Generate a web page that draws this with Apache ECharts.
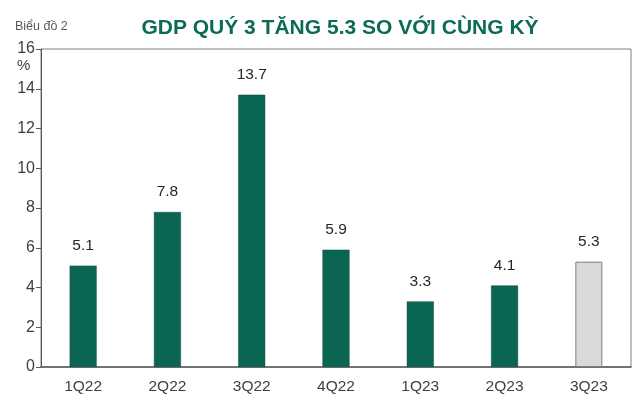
<!DOCTYPE html>
<html>
<head>
<meta charset="UTF-8">
<title>GDP</title>
<script src="https://cdn.jsdelivr.net/npm/echarts@6/dist/echarts.min.js"></script>
</head>
<body style="margin:0;background:#fff">
<div id="gdp-bar" style="width:640px;height:397px;"></div>
<script type="text/javascript">
    var quarters = ['1Q22', '2Q22', '3Q22', '4Q22', '1Q23', '2Q23', '3Q23'];
    var growth = [5.1, 7.8, 13.7, 5.9, 3.3, 4.1, 5.3];
    var highlight = '3Q23';

    var green = '#0a6652';
    var barData = [];
    for (var i = 0; i < quarters.length; i++) {
        if (quarters[i] == highlight) {
            barData.push({ value: growth[i], itemStyle: { color: '#d9d9d9', borderColor: '#7f7f7f', borderWidth: 1 } });
        } else {
            barData.push({ value: growth[i], itemStyle: { color: green, borderColor: '#0f4d40', borderWidth: 0.5 } });
        }
    }

    var chart = echarts.init(document.getElementById('gdp-bar'));
    chart.setOption({
        animation: false,
        textStyle: { fontFamily: 'Liberation Sans' },
        title: {
            text: 'GDP QUÝ 3 TĂNG 5.3 SO VỚI CÙNG KỲ',
            left: 335,
            textAlign: 'center',
            top: 13,
            textStyle: { color: '#0b6b55', fontSize: 21, fontWeight: 'bold', fontFamily: 'Liberation Sans' }
        },
        graphic: [
            { type: 'text', left: 15, top: 20, style: { text: 'Biểu đồ 2', fill: '#595959', fontSize: 12.5, fontFamily: 'Liberation Sans' } },
            { type: 'text', left: 17, top: 58, style: { text: '%', fill: '#404040', fontSize: 15, fontFamily: 'Liberation Sans' } }
        ],
        grid: {
            left: 41, right: 9, top: 49, bottom: 30,
            show: true, borderColor: '#808080', borderWidth: 1
        },
        xAxis: {
            type: 'category',
            data: quarters,
            axisLine: { lineStyle: { color: '#595959', width: 1.5 } },
            axisTick: { show: false },
            axisLabel: { color: '#404040', fontSize: 15.5, margin: 12 }
        },
        yAxis: {
            type: 'value',
            min: 0, max: 16, interval: 2,
            splitLine: { show: false },
            axisLine: { show: true, lineStyle: { color: '#595959' } },
            axisTick: { show: true, inside: false, length: 5, lineStyle: { color: '#595959' } },
            axisLabel: { color: '#404040', fontSize: 16, margin: 6 }
        },
        series: [{
            type: 'bar',
            data: barData,
            barWidth: 27,
            label: { show: true, position: 'top', distance: 12, color: '#262626', fontSize: 15.5 }
        }]
    });
</script>
</body>
</html>
